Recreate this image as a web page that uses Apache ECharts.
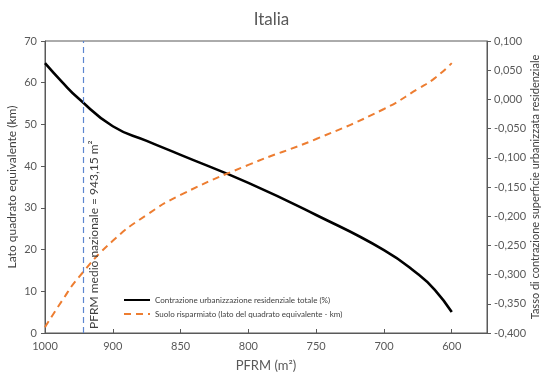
<!DOCTYPE html>
<html>
<head>
<meta charset="utf-8">
<script src="https://cdn.jsdelivr.net/npm/echarts@6/dist/echarts.min.js"></script>
<style>html,body{margin:0;padding:0;background:#fff}#c{width:543px;height:381px}</style>
</head>
<body>
<div id="c"></div>
<script>
// Axis tick labels (PFRM, m2) as shown on the category-like x axis
const xTickValues = [1000, 900, 850, 800, 750, 700, 600];
// Sample PFRM values where the curves were read
const pfrm = [1000, 975, 950, 900, 875, 850, 800, 750, 700, 650, 625, 600];
// Contrazione urbanizzazione residenziale totale (right axis)
const contrazione = [0.062, 0.030, 0.001, -0.046, -0.071, -0.095, -0.143, -0.198, -0.258, -0.299, -0.326, -0.364];
// Suolo risparmiato, lato del quadrato equivalente (km) (left axis)
const suolo = [1.4, 7.7, 13.4, 22.1, 28.3, 33.1, 40.3, 46.5, 53.7, 58.5, 61.1, 64.7];
const pfrmMedio = 943.15;
const leftTicks = {min: 0, max: 70, interval: 10};
const rightTicks = {min: -0.4, max: 0.1, interval: 0.05};

function pos(v) {
  for (let i = 0; i < xTickValues.length - 1; i++) {
    const a = xTickValues[i], b = xTickValues[i + 1];
    if (v <= a && v >= b) return i + (a - v) / (a - b);
  }
  return xTickValues.length - 1;
}

const font = 'Lato, "Open Sans", sans-serif';
const gray = '#595959';
const chart = echarts.init(document.getElementById('c'));
chart.setOption({
  animation: false,
  textStyle: {fontFamily: font},
  title: {text: 'Italia', left: 'center', top: 6, textStyle: {fontFamily: font, fontSize: 17, fontWeight: 'normal', color: gray}},
  grid: {left: 45, right: 56, top: 41, bottom: 48, show: true, borderColor: gray, borderWidth: 1, outerBoundsMode: 'none', containLabel: false},
  legend: {
    orient: 'vertical', left: 118, top: 291, itemGap: 6, itemWidth: 26, itemHeight: 8,
    itemStyle: {opacity: 0},
    textStyle: {fontFamily: font, fontSize: 8, color: '#404040'},
    data: ['Contrazione urbanizzazione residenziale totale (%)', 'Suolo risparmiato (lato del quadrato equivalente - km)']
  },
  xAxis: {
    type: 'value', min: 0, max: 6.52, interval: 1,
    name: 'PFRM (m²)', nameLocation: 'middle', nameGap: 26, nameMoveOverlap: false,
    nameTextStyle: {fontFamily: font, fontSize: 13, color: gray},
    axisLine: {lineStyle: {color: gray}},
    axisTick: {inside: true, length: 4, lineStyle: {color: gray}},
    axisLabel: {color: gray, fontSize: 11, margin: 8, formatter: v => Number.isInteger(v) && v < xTickValues.length ? String(xTickValues[v]) : ''},
    splitLine: {show: false}
  },
  yAxis: [
    {
      type: 'value', min: leftTicks.min, max: leftTicks.max, interval: leftTicks.interval,
      name: 'Lato quadrato equivalente (km)', nameLocation: 'middle', nameGap: 27, nameRotate: 90, nameMoveOverlap: false,
      nameTextStyle: {fontFamily: font, fontSize: 12, color: '#404040'},
      axisLine: {show: true, lineStyle: {color: gray}},
      axisTick: {show: true, length: 4, lineStyle: {color: gray}},
      axisLabel: {color: gray, fontSize: 11, margin: 8},
      splitLine: {show: false}
    },
    {
      type: 'value', min: rightTicks.min, max: rightTicks.max, interval: rightTicks.interval,
      name: 'Tasso di contrazione superficie urbanizzata residenziale', nameLocation: 'middle', nameGap: 43, nameRotate: 90, nameMoveOverlap: false,
      nameTextStyle: {fontFamily: font, fontSize: 11, color: '#404040'},
      axisLine: {show: true, lineStyle: {color: gray}},
      axisTick: {show: true, length: 4, lineStyle: {color: gray}},
      axisLabel: {color: gray, fontSize: 11, margin: 7, formatter: v => v.toFixed(3).replace('.', ',')},
      splitLine: {show: false}
    }
  ],
  series: [
    {
      name: 'Contrazione urbanizzazione residenziale totale (%)',
      type: 'line', yAxisIndex: 1, smooth: 0.5, symbol: 'none',
      lineStyle: {color: '#000', width: 2.6}, itemStyle: {color: '#000'},
      data: pfrm.map((p, i) => [pos(p), contrazione[i]])
    },
    {
      name: 'Suolo risparmiato (lato del quadrato equivalente - km)',
      type: 'line', yAxisIndex: 0, smooth: 0.5, symbol: 'none',
      lineStyle: {color: '#ED7D31', width: 2, type: [7, 5]}, itemStyle: {color: '#ED7D31'},
      data: pfrm.map((p, i) => [pos(p), suolo[i]]),
      markLine: {
        silent: true, symbol: 'none',
        lineStyle: {color: '#5b85d0', width: 1.2, type: [6, 4], opacity: 1},
        label: {show: true, position: 'insideStartBottom', formatter: 'PFRM medio nazionale = 943,15 m²', fontFamily: font, fontSize: 12, color: '#404040', distance: 4},
        data: [{xAxis: pos(pfrmMedio)}]
      }
    }
  ]
});
</script>
</body>
</html>
